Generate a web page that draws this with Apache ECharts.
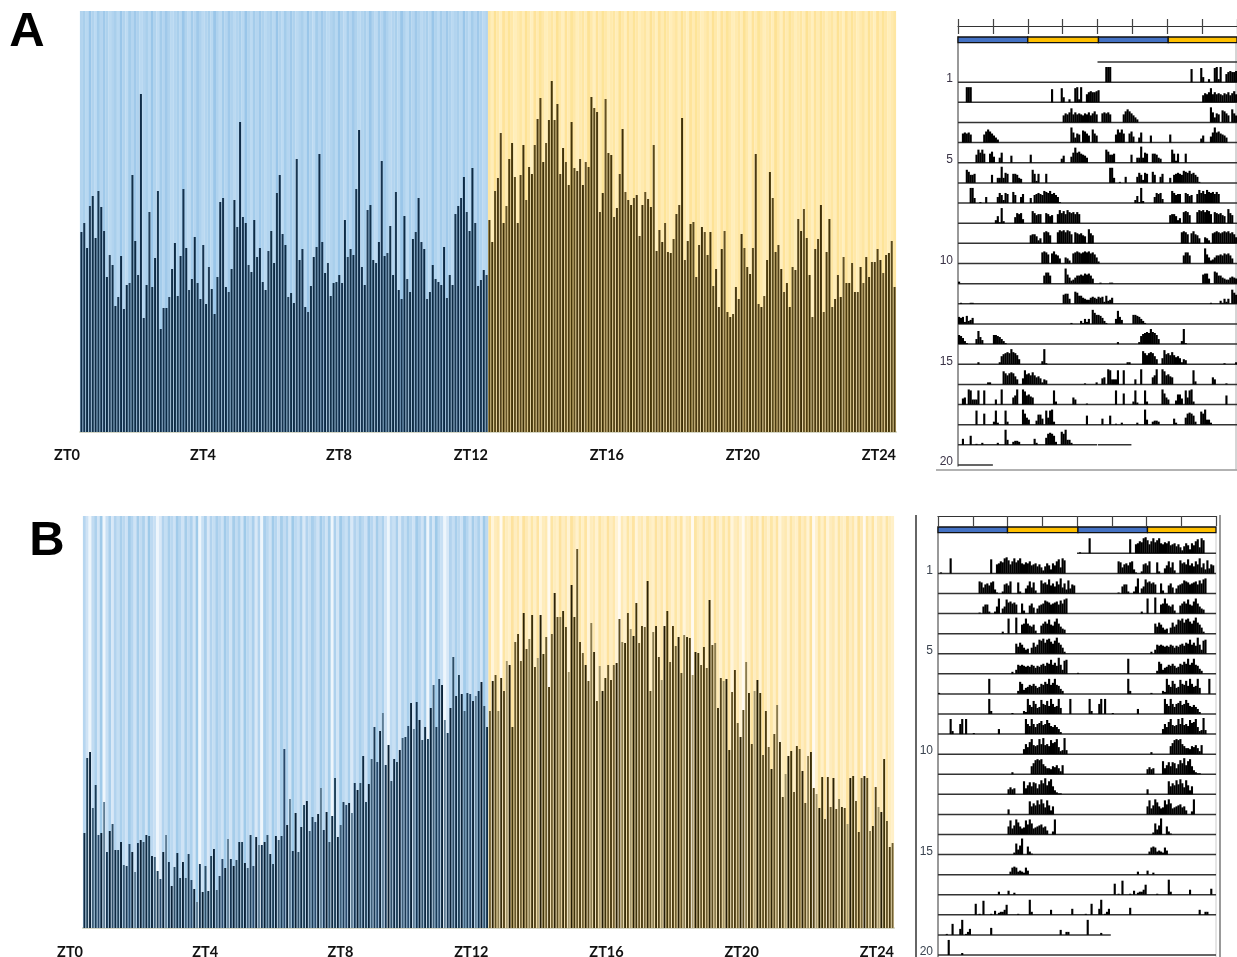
<!DOCTYPE html>
<html><head><meta charset="utf-8">
<style>html,body{margin:0;padding:0;background:#fff}#c{width:1237px;height:957px}</style>
<script src="https://cdn.jsdelivr.net/npm/echarts@6/dist/echarts.min.js"></script>
</head><body><div id="c"></div>
<script>
const ztLabels=['ZT0','ZT4','ZT8','ZT12','ZT16','ZT20','ZT24'];
const rowLabels=[1,5,10,15,20];

const panelALight=[200,209,184,226,236,194,241,225,201,155,177,167,126,135,176,123,147,149,257,191,157,338,114,147,220,145,174,241,103,124,124,135,163,189,136,176,243,184,142,153,195,149,133,187,128,165,143,118,155,230,234,145,140,163,232,205,310,215,209,167,160,212,175,184,150,142,181,201,169,239,257,198,187,135,139,129,273,172,183,125,120,146,175,185,278,190,159,169,136,149,150,157,149,212,175,183,177,243,302,165,147,222,227,172,169,190,271,176,179,206,157,240,142,133,216,153,140,193,200,234,190,183,133,140,167,153,150,147,185,134,157,147,218,226,234,255,220,201,264,209,146,152,162,157];
const panelADark=[212,190,241,254,299,209,226,273,289,255,209,257,287,232,265,258,287,313,334,270,289,312,351,312,328,258,284,270,247,310,264,261,273,247,270,265,335,324,320,220,239,333,279,277,215,224,258,303,240,232,227,234,237,196,227,240,233,225,287,181,202,190,209,180,179,193,218,227,314,172,191,208,210,155,187,205,200,177,200,146,163,125,183,201,120,115,118,145,133,198,184,165,158,184,278,128,125,136,172,260,234,180,187,163,140,149,125,165,162,213,201,223,194,157,115,183,193,227,120,180,213,125,133,157,135,175,149,149,169,140,140,165,149,175,155,170,170,183,172,159,177,179,191,145];
const panelBLight=[95,170,176,120,143,93,95,126,76,97,104,78,78,86,63,62,84,76,56,85,88,86,93,92,72,71,57,49,76,93,66,42,61,75,50,66,50,74,48,39,26,64,36,62,37,72,79,38,52,69,60,89,69,62,68,86,86,65,60,93,62,91,83,83,86,93,74,64,92,88,92,179,103,129,77,115,76,101,123,127,97,111,106,114,140,98,116,86,112,150,91,103,126,123,125,115,145,138,145,172,126,144,169,201,166,197,215,163,183,147,169,166,178,190,191,202,225,199,226,208,188,201,189,220,243,201,249,243,208,195,220,271,232,253,234,217,235,234,227,232,237,246,222,201];
const panelBDark=[217,247,253,217,250,237,267,263,201,286,294,267,315,279,289,313,261,270,313,274,291,241,294,335,311,311,317,301,256,343,311,379,286,275,263,247,305,276,227,262,237,250,263,248,263,265,309,286,285,315,299,292,325,285,302,301,347,237,296,302,271,248,302,317,266,302,282,291,255,293,291,290,253,276,275,263,281,260,328,283,285,220,250,247,249,178,236,258,205,191,218,266,235,184,237,248,235,173,217,181,159,194,223,186,131,154,172,177,136,182,179,157,125,172,176,140,134,120,151,109,151,121,150,119,129,121,120,104,150,152,127,96,150,152,150,97,102,141,121,116,169,107,81,85];

// actogram days: each cluster is [first 20-min bin, heights...]
const daysA=[[],[],
[[4,15,15,15],[48,13],[53,14,5],[57,3],[60,14,15,3,15],[66,8,10,11,10,10,11,12]],
[[54,7,9,8,10,14,8,10,8,9,8,7,9,8,10,7,9,11,8]],
[[2,9,10,9,10,8],[13,8,11,13,11,9,7,5,3],[58,15,10,5,9,8],[64,12,11,9,7],[69,13,9,7]],
[[9,8,13,10,13,9],[16,9,11,6],[21,5,10],[27,7],[37,8],[53,4,7],[58,6,10,15,10,11,9,8,7,5]],
[[4,13,11,8,8,9],[17,8],[20,5,5,16,5,10,9],[28,9,9,8,5,4],[38,13,9,2,9],[45,9]],
[[6,15,15,5],[11,1],[14,6],[20,6,10,8,3,10,9],[28,11,8],[32,6,9],[37,5],[39,8,9,10,9,8,12,11,10,12,9,10,8,6,1]],
[[19,3,7,1,15,2],[29,6,10,9,10,4],[38,12,10,8,9,9],[45,10,9,7,8],[51,9,13,10,12,9,13,11,10,11,9,11,9]],
[[37,8,9,9,7,3,5],[44,11,12,11,8],[51,11,13,12,13,11,13,12,9],[60,11,10,9,10,8,7],[67,14,10,8]],
[[43,11,12,11,9],[48,10,12,9,8,5],[55,6,5,3],[59,10,11,12,11,10,11,12,11,12,10,11,9,6]],
[[0,2],[44,8,11,11,8],[55,15,9,6,3,4,6,8,8,9,8,10,9,10,8,5]],
[[1,1],[6,1],[7,1],[54,9,10,10,5],[60,12,11,8,8,6,5,4,4,6,7,6,5]],
[[0,7,6,7,2,8,3,4,6],[58,1],[63,3,1,5,2,5],[69,14,11,9]],
[[0,9,8,6,3,1],[9,5,13,7,4],[18,9,9,8,7,5,3,1]],
[[10,2],[21,2,8,10,11,12,11,15,12,11,9,5],[43,3,15,1]],
[[15,2,2],[23,13,11,9,11,12,11,8,5],[33,6,14,10,11,9,12,9,7,8,6,2,5,4],[65,1],[71,2]],
[[2,6,7],[5,15,14,5,5,5,14],[13,14],[19,5],[22,15],[28,7,9,15],[33,15,13,9,10,8,7],[49,14,3],[59,7,5],[66,1]],
[[9,14],[13,11],[18,3,14,2],[24,14,3],[33,15,11,7,5],[40,4,10,10,6],[45,14,7,14,15,3],[66,9]],
[[2,6],[6,9],[9,1],[12,2],[20,2],[24,15,5],[28,3,4,4,3],[39,6,2],[45,7,11,12,11,9,3],[53,13,11,15,5,5,2]],
[],[]];
const daysB=[[],
[[1,1],[6,15],[27,14],[30,9,10,12,11,15,16,13,9,12,15,11,13,15,10,9,11,10,12,8,9,10,7,9,6,3,7,10,8,4,10,8,12,14,6,15,13]],
[[21,12,11,6,9,10,8,11,12,4,1],[33,2,9,10,8,12],[41,11,2],[45,5,8,12,6,11,3],[53,13,10,11,9,14,8,10,7,12,9,15,6,10,4,13,5,9,8]],
[[21,1],[23,7,9,9,2],[29,2,7,15],[33,5,7,14,11,12,10,11,9],[43,10,3],[47,8,10,6],[51,5,8,9,10,13,12,11,9,10,11,12,9,13,10,14,15]],
[[33,2],[36,15],[40,16],[43,9,10,15,10,8,7,9,3],[53,8,10,12,10,14,9,8,12,15,10,7,5,4]],
[[40,10,7,11,9,6,4,5],[48,6,11,7,9,14,13,15,11,14,15,12,10,13,16,11,9,6,2]],
[[38,2],[40,4,9,8,9,8,7,8,7,9,8,6,8,7,9,10,8,11,10,14,9,11,8,16,9,4,13,14]],
[[0,1],[26,15],[41,3,12,10,4,6,7,9,8,10,8,6,7,10,9,12,10,15,9,11,15,9,8,5,3]],
[[26,15,3],[38,1],[44,3,2,15,9,7,13,10,6,7,14,10,9,13,8,15,10,7,8,15,6],[68,15]],
[[6,15,3],[11,10,15],[14,15],[18,1],[31,5],[45,15,10,8,15,10,7,10,11,13,9,10,14,11,8,7,9,7,5,2]],
[[44,5,10,7,12,15,9,8,9,15,10,16,9,10,8,14,11,12,15,7,3,4,16,4]],
[[38,2],[48,8,11,14,15,14,15,10,8,6,6,5,8,7,9,6,3,9]],
[[36,5,7,5,6],[44,13,6,9,12,8,12,11,6,10,14,11,16,9,13,15,8,4,2,1,1]],
[[36,5],[47,13,8,11,9,14,10,15,11,7,14,9,4,8]],
[[36,8,14,6,9,15,12,8,6,7,14,10,15,11,6,7,8,9,10,7,8,4],[59,3,15]],
[[39,2,11,5,9,16],[46,8,3,1]],
[[37,3,7,8,7,3,4,3,2,7,4]],
[[31,3],[36,4],[39,2]],
[[19,11],[21,1],[23,14],[27,1],[29,4],[31,2,3,3,5,10],[41,1],[47,15,3],[58,5],[69,6]],
[[4,1],[7,11],[11,6,15],[14,1,3,6],[27,7],[63,5],[66,3,3]],
[[5,15],[12,2]],
[]];
// baseline extents per row, in bins
const spansA={0:[[72,144]],19:[[0,71.8],[72.2,89.5]],20:[[0,18]]};
const spansB={0:[[72,144]],19:[[0,89.5]]};
const lightBands=[[0,36,0],[36,72.5,1],[72.5,108.5,0],[108.5,144,1]];
// bins whose backdrop stripe is nearly white in panel B
const paleBinsB=[2,7,26,41,63,88,108,122,128,148,165,190,216,234,259,277];

const bgBlueA=['#b2d4ef','#a9cfec','#b8d8f1','#9ac6e9','#b0d3ee','#bcdaf2','#a4cceb','#b4d5f0','#a0c9ea','#aed2ee','#bad9f1'];
const bgYellowA=['#ffeaae','#fee6a2','#ffedb8','#fde295','#ffe9aa','#ffefbe','#fee39a','#ffebb2','#fde498','#ffe8a8','#ffeeba'];
const bgBlueB=['#b6d6f0','#cfe3f5','#a6cdea','#c2dcf2','#add1ed','#d2e5f6','#9fcae9','#bcd9f1','#c8e0f4','#aacfec','#d8e8f7','#b2d3ee','#c4def3','#a9cfec','#bad8f0','#cde2f5','#a2cbea'];
const bgYellowB=['#feedc0','#fee7ac','#fff3d3','#fde29c','#feeab6','#fff1cc','#fde6a6','#fff0c6','#fee4a2','#fff5da','#feecbc','#fee9b2','#fff2d0','#fde5a4','#feedbe','#fff0c8','#fde29e'];
const inkBlueA=['#0f2c48','#16334f','#0c2a45','#223f5a','#123049','#0e2b44','#183650'];
const inkYellowA=['#4a3a12','#54431a','#3f3008','#645224','#4e3d10','#443509','#5a4a1c'];
const inkBlueB=['#0e2a42','#1f4058','#0a2238','#3c5c76','#1b3a55','#28496a','#0c2338','#5f7d94','#143350','#0a2034','#2d4d66'];
const inkYellowB=['#4a3a10','#6f5f32','#2c2206','#5c4c20','#8a7c50','#3a2e0a','#54441a','#a3966c','#241c04','#3e3208','#66562a'];

function toPts(a){return a.map((v,i)=>[i+.5,v])}
function barSeries(light,dark,xDark,xBg,yIdx,top,inkL,inkD,bgL,bgD,w,pale){
  const vals=light.concat(dark);
  return [
   {type:'bar',xAxisIndex:xBg,yAxisIndex:yIdx,data:toPts(vals.map(()=>top)),barWidth:3,z:1,silent:true,
    itemStyle:{color:p=>{if(pale.includes(p.dataIndex))return p.dataIndex<144?'#eef6fc':'#fffaf0';const a=p.dataIndex<144?bgL:bgD;return a[p.dataIndex%a.length]}}},
   {type:'bar',xAxisIndex:xDark,yAxisIndex:yIdx,data:toPts(vals),barWidth:w,z:2,
    itemStyle:{color:p=>{const a=p.dataIndex<144?inkL:inkD;return a[p.dataIndex%a.length]}}}
  ];
}
function rowBars(days){
  const out=[];
  for(let r=0;r<=20;r++){
    [[days[r],0],[days[r+1],72]].forEach(([d,off])=>{
      (d||[]).forEach(c=>{for(let k=1;k<c.length;k++)out.push([c[0]+k-1+off,r,c[k]])});
    });
  }
  return out;
}
function baselines(spans){
  const out=[];
  for(let r=0;r<=20;r++)(spans[r]||[[0,144]]).forEach(s=>out.push([s[0],s[1],r]));
  return out;
}
function acto(xA,yA,days,spans,minRow,lw,lineCol){
  return [
   {type:'custom',xAxisIndex:xA,yAxisIndex:yA,data:baselines(spans),clip:false,silent:true,z:3,encode:{x:0,y:2},
    renderItem:(p,api)=>{const a=api.coord([api.value(0),api.value(2)]),b=api.coord([api.value(1),api.value(2)]);
      return {type:'line',shape:{x1:a[0],y1:a[1],x2:b[0],y2:b[1]},style:{stroke:lineCol,lineWidth:lw}}}},
   {type:'custom',xAxisIndex:xA,yAxisIndex:yA,data:rowBars(days),clip:false,silent:true,z:4,encode:{x:0,y:1},
    renderItem:(p,api)=>{const a=api.coord([api.value(0),api.value(1)]),sz=api.size([1,1]),h=api.value(2)*sz[1]/20;
      return {type:'rect',shape:{x:a[0],y:a[1]-h,width:sz[0]+.2,height:h},style:{fill:'#000'}}}},
   {type:'custom',xAxisIndex:xA,yAxisIndex:yA,data:lightBands,clip:false,silent:true,z:5,encode:{x:0,y:2},
    renderItem:(p,api)=>{const a=api.coord([api.value(0),minRow]),b=api.coord([api.value(1),minRow+.28]);
      return {type:'rect',shape:{x:a[0],y:a[1],width:b[0]-a[0],height:b[1]-a[1]},
        style:{fill:api.value(2)?'#ffc000':'#4472c4',stroke:'#111',lineWidth:1.3}}}}
  ];
}
const hidden={show:false};
function barX(grid,show,margin){return {type:'value',gridIndex:grid,min:0,max:288,interval:48,show:show,
  axisLine:{show:true,lineStyle:{color:'#d5d6c4',width:2}},axisTick:hidden,splitLine:hidden,
  axisLabel:{show:true,margin:margin,align:'right',fontFamily:'Lato',fontWeight:'bold',fontSize:14.5,color:'#111',showMinLabel:true,showMaxLabel:true,
    formatter:v=>ztLabels[v/48]}}}
function rulerX(grid,inside,len,line){return {type:'value',gridIndex:grid,position:'top',offset:11,min:0,max:144,interval:18,
  axisLine:{show:line,onZero:false,lineStyle:{color:'#333',width:1.2}},axisTick:{show:true,inside:inside,length:len,lineStyle:{color:'#444',width:1.2}},
  axisLabel:hidden,splitLine:hidden}}
function barY(grid,top){return {type:'value',gridIndex:grid,min:0,max:top,show:false,splitLine:hidden}}
function rowY(grid,minR,maxR,size,col){return {type:'value',gridIndex:grid,inverse:true,min:minR,max:maxR,
  axisLine:{show:true,lineStyle:{color:'#777',width:1.5}},axisTick:hidden,splitLine:hidden,
  axisLabel:{customValues:rowLabels.map(r=>r-.15),margin:5,fontFamily:'Liberation Sans',fontSize:size,color:col,
    formatter:v=>String(Math.round(v+.15))}}}
function line(x1,y1,x2,y2,c,w){return {type:'line',shape:{x1,y1,x2,y2},style:{stroke:c,lineWidth:w},silent:true}}
function letter(t,x,y){return {type:'text',x,y,silent:true,style:{text:t,fontFamily:'Liberation Sans',fontWeight:'bold',fontSize:49,fill:'#000',textAlign:'center',textVerticalAlign:'middle'}}}

const chart=echarts.init(document.getElementById('c'),null,{renderer:'canvas'});
chart.setOption({
 animation:false,backgroundColor:'#fff',tooltip:{show:false},
 grid:[
  {left:80,top:11,width:816,height:421,outerBoundsMode:'none'},
  {left:83,top:516,width:811,height:412,outerBoundsMode:'none'},
  {left:958,top:37,width:279,height:429,outerBoundsMode:'none'},
  {left:938,top:527,width:278,height:430,outerBoundsMode:'none'}
 ],
 xAxis:[barX(0,true,16),barX(0,false,16),barX(1,true,17),barX(1,false,17),
   rulerX(2,false,7,true),rulerX(2,true,8,false),rulerX(3,true,10,true)],
 yAxis:[barY(0,421),barY(1,412),rowY(2,-1.24,20.05,12,'#3a3346'),
   rowY(3,-1.31,20.1,12,v=>Math.round(v+.15)===1?'#b5762a':'#3b4450')],
 series:[
  ...barSeries(panelALight,panelADark,0,1,0,421,inkBlueA,inkYellowA,bgBlueA,bgYellowA,2,[]),
  ...barSeries(panelBLight,panelBDark,2,3,1,412,inkBlueB,inkYellowB,bgBlueB,bgYellowB,1.9,paleBinsB),
  ...acto(4,2,daysA,spansA,-1.24,1.5,'#333'),
  ...acto(6,3,daysB,spansB,-1.31,1.5,'#333')
 ],
 graphic:[
  letter('A',27,32),letter('B',47,541),
  line(936,470,1237,470,'#999',1.5),line(1236,40,1236,470,'#aaa',1),
  line(916,515,916,957,'#333',1.5),line(1220,515,1220,957,'#999',2),line(1216,533,1216,957,'#ccc',1)
 ]
});
</script></body></html>
